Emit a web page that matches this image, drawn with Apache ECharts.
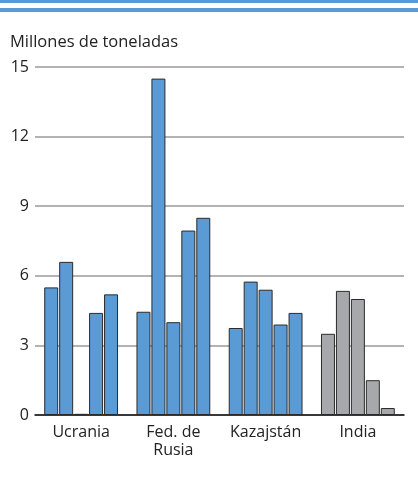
<!DOCTYPE html>
<html>
<head>
<meta charset="utf-8">
<script src="https://cdn.jsdelivr.net/npm/echarts@6/dist/echarts.min.js"></script>
<style>
  html, body { margin: 0; padding: 0; background: #fff; }
  #chart { width: 418px; height: 492px; }
</style>
</head>
<body>
<div id="chart"></div>
<script>
// categorias y valores (millones de toneladas), 5 barras por país
var categories = ['Ucrania', 'Fed. de\nRusia', 'Kazajstán', 'India'];
var bar1 = [5.5, 4.45, 3.75, 3.5];
var bar2 = [6.6, 14.5, 5.75, 5.35];
var bar3 = [0.05, 4.0, 5.4, 5.0];
var bar4 = [4.4, 7.95, 3.9, 1.5];
var bar5 = [5.2, 8.5, 4.4, 0.3];
var yTicks = [0, 3, 6, 9, 12, 15];

var blue = '#5b9bd5';
var gray = '#a7a8ab';

function makeSeries(vals) {
  return {
    type: 'bar',
    barGap: '7%',
    barCategoryGap: '20%',
    itemStyle: { color: blue, borderColor: '#2b2b2b', borderWidth: 1 },
    data: vals.map(function (v, i) {
      // India va en gris
      if (i === 3) return { value: v, itemStyle: { color: gray } };
      return v;
    })
  };
}

var chart = echarts.init(document.getElementById('chart'));
chart.setOption({
  animation: false,
  textStyle: { fontFamily: 'Open Sans' },
  graphic: [
    { type: 'rect', left: 0, top: 0, shape: { width: 418, height: 3 }, style: { fill: blue } },
    { type: 'rect', left: 0, top: 8, shape: { width: 418, height: 4 }, style: { fill: blue } },
    { type: 'text', left: 10, top: 34, style: { text: 'Millones de toneladas', fontSize: 16.5, fill: '#222', fontFamily: 'Open Sans' } }
  ],
  grid: { left: 35, right: 14, top: 67, bottom: 77 },
  xAxis: {
    type: 'category',
    data: categories,
    axisTick: { show: false },
    axisLine: { lineStyle: { color: '#111', width: 1.5 } },
    axisLabel: { interval: 0, color: '#222', fontSize: 16, margin: 8, lineHeight: 18, fontFamily: 'Open Sans' }
  },
  yAxis: {
    type: 'value',
    min: 0,
    max: 15,
    interval: 3,
    axisLine: { show: false },
    axisTick: { show: false },
    axisLabel: {
      color: '#222', fontSize: 16, margin: 6, fontFamily: 'Open Sans',
      formatter: function (v) { return yTicks.indexOf(v) >= 0 ? String(v) : ''; }
    },
    splitLine: { lineStyle: { color: '#9a9a9a', width: 1.5 } }
  },
  series: [makeSeries(bar1), makeSeries(bar2), makeSeries(bar3), makeSeries(bar4), makeSeries(bar5)]
});
</script>
</body>
</html>
